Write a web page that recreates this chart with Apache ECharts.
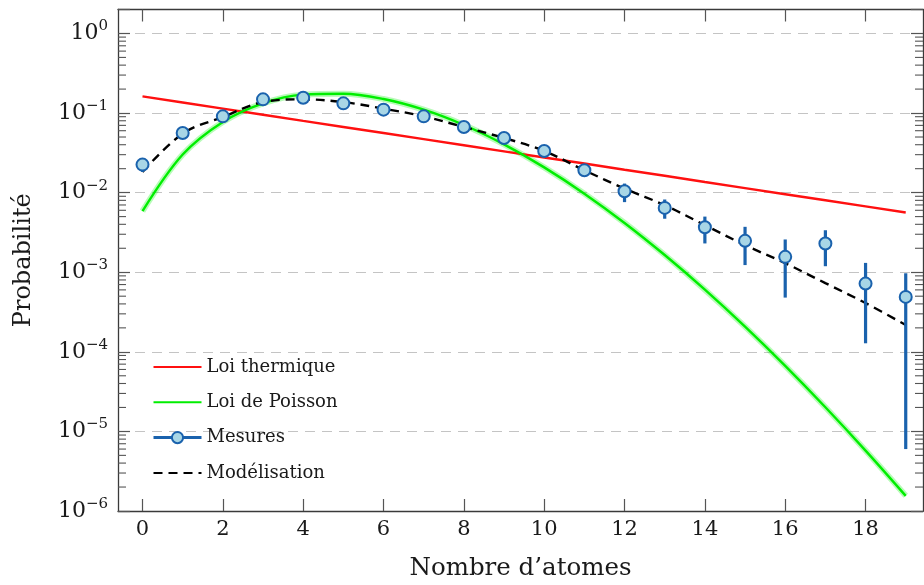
<!DOCTYPE html>
<html>
<head>
<meta charset="utf-8">
<script src="https://cdn.jsdelivr.net/npm/echarts@6/dist/echarts.min.js"></script>
<style>html,body{margin:0;padding:0;background:#fff;}#chart{width:924px;height:585px;}</style>
</head>
<body>
<div id="chart"></div>
<script>
// ---- data ----
const xValues = [0,1,2,3,4,5,6,7,8,9,10,11,12,13,14,15,16,17,18,19];
const thermal = [0.1620,0.1357,0.1137,0.0953,0.0798,0.0669,0.0561,0.0470,0.0394,0.0330,0.0276,0.0232,0.0194,0.0163,0.0136,0.0114,0.00956,0.00801,0.00671,0.00563];
const poisson = [0.00586,0.0301,0.0774,0.1326,0.1703,0.1751,0.1500,0.1102,0.0708,0.0404,0.02077,0.00971,0.00416,0.001644,0.000604,0.000207,0.0000665,0.0000201,0.00000574,0.00000155];
const measures = [0.0225,0.0561,0.0909,0.1486,0.156,0.1324,0.1104,0.0909,0.0667,0.0486,0.0334,0.0191,0.01042,0.00643,0.00368,0.00248,0.00156,0.0023,0.00072,0.00049];
const errLow  = [0.0182,0.050,0.083,0.138,0.146,0.123,0.102,0.084,0.061,0.044,0.030,0.0170,0.0076,0.0047,0.0023,0.00123,0.00048,0.00119,0.000128,0.0000060];
const errHigh = [0.0265,0.062,0.099,0.160,0.167,0.142,0.119,0.098,0.072,0.054,0.037,0.0213,0.0130,0.0082,0.0050,0.00372,0.00258,0.00337,0.00131,0.00097];
const model = [0.0182,0.0552,0.0891,0.1375,0.1486,0.1375,0.1135,0.0909,0.0667,0.0486,0.0334,0.0191,0.01125,0.00695,0.0039,0.00219,0.0013,0.00073,0.00041,0.000217];
const xTicks = [0,2,4,6,8,10,12,14,16,18];
const yDecades = [1e-6,1e-5,1e-4,1e-3,1e-2,1e-1,1];
const minorMult = [2,3,4,5,6,7,8,9];
const names = ['Loi thermique','Loi de Poisson','Mesures','Modélisation'];

const X_MIN = -0.61, X_MAX = 19.43, Y_MIN = 1e-6, Y_MAX = 2;
const FONT = 'DejaVu Serif';
const TXT = '#1a1a1a';
const FRAME = '#3a3a3a';
const TICK = '#555';

const pairs = arr => xValues.map((x, i) => [x, arr[i]]);
const minorTicks = [];
yDecades.forEach(d => minorMult.forEach(m => { if (m * d < Y_MAX) minorTicks.push([X_MIN, m * d]); }));

const chart = echarts.init(document.getElementById('chart'), null, {renderer: 'canvas'});

function supLabel(v) {
  const l = Math.log10(v), e = Math.round(l);
  if (Math.abs(l - e) > 1e-6) return '';
  return '{b|10}{s|' + (e < 0 ? '\u2212' + (-e) : String(e)) + '}';
}

const noSymbol = {color: 'rgba(0,0,0,0)', borderWidth: 0, opacity: 0};

const option = {
  animation: false,
  backgroundColor: '#fff',
  grid: {left: 118, right: 1, top: 9.5, bottom: 74, containLabel: false, outerBoundsMode: 'none'},
  legend: {
    orient: 'vertical', left: 152, top: 358, padding: 0,
    itemWidth: 48, itemHeight: 14, itemGap: 17.3,
    textStyle: {fontFamily: FONT, fontSize: 18, color: TXT},
    data: [
      {name: names[0], itemStyle: noSymbol},
      {name: names[1], itemStyle: noSymbol},
      {name: names[2], lineStyle: {width: 3, color: '#1a62ad', opacity: 1}},
      {name: names[3], itemStyle: noSymbol}
    ]
  },
  xAxis: [{
    type: 'value', min: X_MIN, max: X_MAX, position: 'bottom',
    name: 'Nombre d\u2019atomes', nameLocation: 'middle', nameGap: 45,
    nameTextStyle: {fontFamily: FONT, fontSize: 24.5, color: TXT},
    axisLine: {show: true, onZero: false, lineStyle: {color: FRAME, width: 1.3}},
    axisTick: {show: true, inside: true, length: 12, customValues: xTicks, lineStyle: {color: TICK, width: 1.2}},
    axisLabel: {show: true, customValues: xTicks, margin: 8, fontFamily: FONT, fontSize: 21, color: TXT},
    splitLine: {show: false}
  }, {
    type: 'value', min: X_MIN, max: X_MAX, position: 'top',
    axisLine: {show: true, onZero: false, lineStyle: {color: FRAME, width: 1.3}},
    axisTick: {show: true, inside: true, length: 12, customValues: xTicks, lineStyle: {color: TICK, width: 1.2}},
    axisLabel: {show: false},
    splitLine: {show: false}
  }],
  yAxis: [{
    type: 'log', logBase: 10, min: Y_MIN, max: Y_MAX, position: 'left',
    name: 'Probabilit\u00e9', nameLocation: 'middle', nameGap: 82, nameRotate: 90,
    nameTextStyle: {fontFamily: FONT, fontSize: 24, color: TXT},
    axisLine: {show: true, onZero: false, lineStyle: {color: FRAME, width: 1.3}},
    axisTick: {show: true, inside: true, length: 12, lineStyle: {color: TICK, width: 1.2}},
    axisLabel: {
      show: true, margin: 10, formatter: supLabel,
      rich: {
        b: {fontFamily: FONT, fontSize: 22, color: TXT},
        s: {fontFamily: FONT, fontSize: 15, color: TXT, padding: [0, 0, 14, 0]}
      }
    },
    splitLine: {show: true, lineStyle: {color: '#c4c4c4', width: 1, type: [10, 7]}},
    minorTick: {show: false}
  }, {
    type: 'log', logBase: 10, min: Y_MIN, max: Y_MAX, position: 'right',
    axisLine: {show: true, onZero: false, lineStyle: {color: FRAME, width: 1.3}},
    axisTick: {show: true, inside: true, length: 12, lineStyle: {color: TICK, width: 1.2}},
    axisLabel: {show: false},
    splitLine: {show: false}
  }],
  series: [
    {
      name: 'minor', type: 'custom', xAxisIndex: 0, yAxisIndex: 0, silent: true, z: 1,
      data: minorTicks, encode: {x: 0, y: 1},
      renderItem: function (params, api) {
        const v = api.value(1);
        const pl = api.coord([X_MIN, v]);
        const pr = api.coord([X_MAX, v]);
        return {type: 'group', children: [
          {type: 'line', shape: {x1: pl[0], y1: pl[1], x2: pl[0] + 8, y2: pl[1]}, style: {stroke: TICK, lineWidth: 1.1}},
          {type: 'line', shape: {x1: pr[0], y1: pr[1], x2: pr[0] - 8, y2: pr[1]}, style: {stroke: TICK, lineWidth: 1.1}}
        ]};
      }
    },
    {
      name: names[0], type: 'line', symbol: 'none', z: 3,
      data: pairs(thermal),
      lineStyle: {color: '#ff1010', width: 2.4}, itemStyle: {color: '#ff1010'}
    },
    {
      name: 'poisson-band', type: 'line', symbol: 'none', smooth: 0.35, z: 2, silent: true,
      data: pairs(poisson),
      lineStyle: {color: 'rgba(0,240,0,0.28)', width: 6}
    },
    {
      name: names[1], type: 'line', symbol: 'none', smooth: 0.35, z: 3,
      data: pairs(poisson),
      lineStyle: {color: '#00ee00', width: 2.4}, itemStyle: {color: '#00ee00'}
    },
    {
      name: names[3], type: 'line', symbol: 'none', smooth: 0.35, z: 4,
      data: pairs(model),
      lineStyle: {color: '#000', width: 2.4, type: [9, 6]}, itemStyle: {color: '#000'}
    },
    {
      name: 'errorbars', type: 'custom', silent: true, z: 5,
      data: xValues.map((x, i) => [x, errLow[i], errHigh[i]]),
      encode: {x: 0, y: [1, 2]},
      renderItem: function (params, api) {
        const x = api.value(0);
        const p1 = api.coord([x, api.value(1)]);
        const p2 = api.coord([x, api.value(2)]);
        return {type: 'line', shape: {x1: p1[0], y1: p1[1], x2: p2[0], y2: p2[1]},
          style: {stroke: '#1a62ad', lineWidth: 3.2}};
      }
    },
    {
      name: names[2], type: 'line', z: 6,
      data: pairs(measures),
      symbol: 'circle', symbolSize: 12, showSymbol: true,
      lineStyle: {width: 0, opacity: 0},
      itemStyle: {color: '#a8d6e6', borderColor: '#1a62ad', borderWidth: 2}
    }
  ]
};
chart.setOption(option);
</script>
</body>
</html>
